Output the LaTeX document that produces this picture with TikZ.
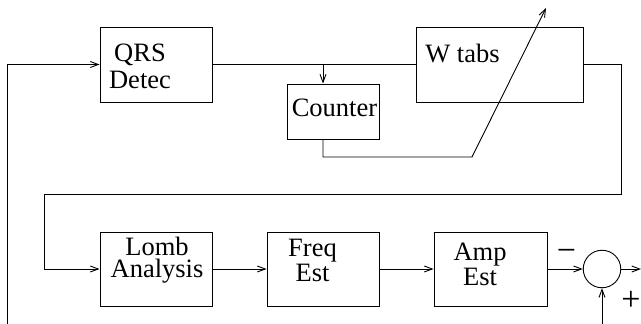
\documentclass[tikz,border=0pt]{standalone}
\usepackage{fontspec}
\setmainfont{Liberation Serif}
\newfontfamily\figfont{Liberation Serif}
\usetikzlibrary{arrows.meta}
\tikzset{
  blk/.style={draw, line width=0.9pt, inner sep=0pt, minimum width=#1, minimum height=75pt},
  lbl/.style={anchor=base, inner sep=0pt, align=center, font=\figfont\fontsize{26.5}{25}\selectfont},
  sgn/.style={anchor=center, inner sep=0pt, font=\figfont\fontsize{34}{36}\selectfont},
  wire/.style={line width=0.9pt},
  arr/.style={line width=0.9pt, -{Straight Barb[length=8pt,width=6pt,line width=0.9pt]}},
}
\begin{document}
\begin{tikzpicture}[x=1pt,y=-1pt]
\useasboundingbox (0,0) rectangle (641,324);
% boxes
\node[blk=112pt] (qrs) at (156,64.5) {};
\node[blk=167pt] (wtabs) at (499.5,64.5) {};
\node[blk=92pt, minimum height=55pt] (counter) at (333,111.5) {};
\node[blk=112pt, minimum height=74pt] (lomb) at (156,269) {};
\node[blk=112pt, minimum height=74pt] (freq) at (323,269) {};
\node[blk=113pt, minimum height=74pt] (amp) at (490.5,269) {};
\node[draw, circle, line width=0.9pt, minimum size=37.5pt, inner sep=0pt] (sum) at (602,269) {};
% texts
\node[lbl] (tqrs) at (140,88) {QRS\\[2pt]Detec};
\node[lbl] (tcnt) at (334.5,116) {Counter};
\node[lbl] (twt) at (462.5,63) {W tabs};
\node[lbl] (tlomb) at (157,277) {Lomb\\[-3pt]Analysis};
\node[lbl] (tfreq) at (312.5,281) {Freq\\Est};
\node[lbl] (tamp) at (480,285) {Amp\\Est};
\node[sgn] (minus) at (566.5,255) {−};
\node[sgn] (plus) at (631,301) {+};
% coordinates
\coordinate (fb) at (7,324);
\coordinate (junc) at (323,64.5);
\coordinate (cbot) at (323,157);
\coordinate (bend) at (472,157);
\coordinate (tip) at (546,8);
\coordinate (wr) at (621,64.5);
\coordinate (wd) at (621,194);
\coordinate (wl) at (44,194);
\coordinate (out) at (641,269);
\coordinate (inb) at (602,324);
% connectors
\draw[arr] (fb) -- (fb |- qrs.west) -- (qrs.west);
\draw[wire] (qrs.east) -- (wtabs.west);
\draw[arr] (junc) -- (junc |- counter.north);
\draw[arr] (junc |- counter.south) -- (cbot) -- (bend) -- (tip);
\draw[arr] (wtabs.east) -- (wr) -- (wd) -- (wl) -- (wl |- lomb.west) -- (lomb.west);
\draw[arr] (lomb.east) -- (freq.west);
\draw[arr] (freq.east) -- (amp.west);
\draw[arr] (amp.east) -- (sum.west);
\draw[arr] (sum.east) -- (out);
\draw[arr] (inb) -- (sum.south);
\end{tikzpicture}
\end{document}
